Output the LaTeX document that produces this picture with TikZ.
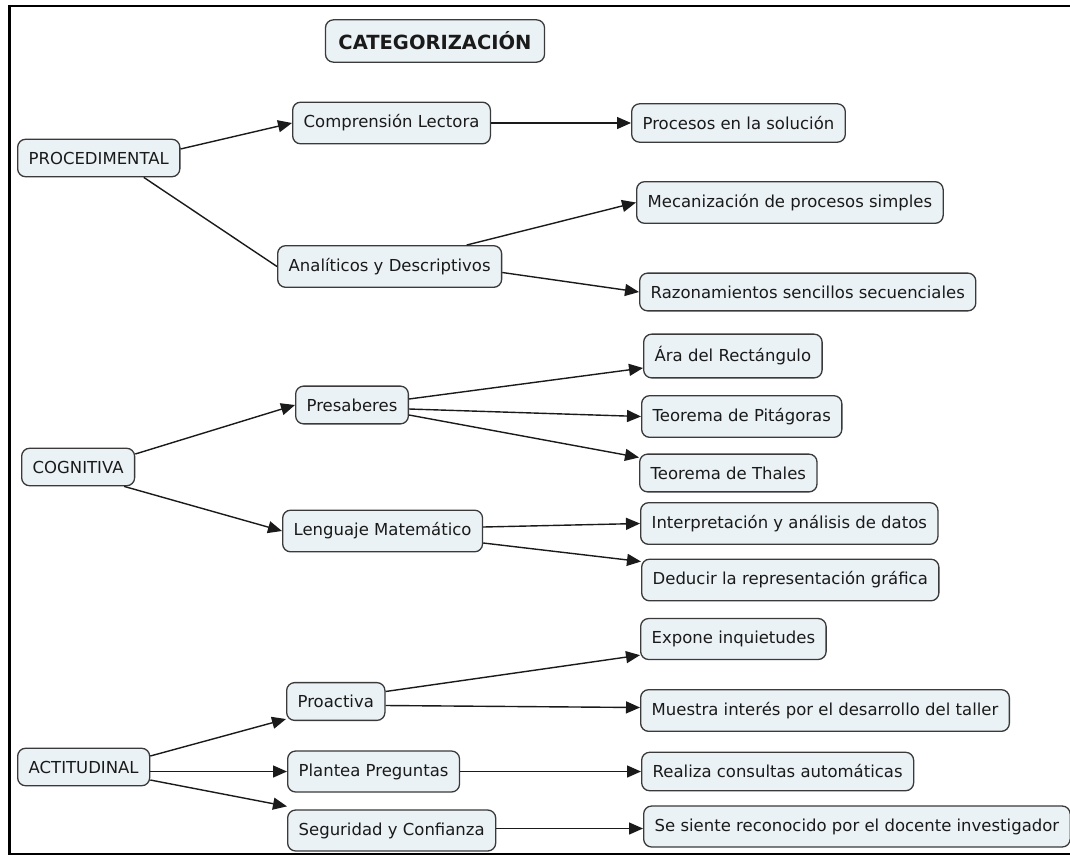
\documentclass[tikz,border=0pt]{standalone}
\usepackage{fontspec}
\setmainfont{DejaVu Sans}
\usetikzlibrary{arrows.meta}

\definecolor{boxfill}{HTML}{EBF2F5}
\definecolor{boxline}{HTML}{3A3A3A}
\definecolor{ink}{HTML}{1A1A1A}

\tikzset{
  concept/.style={draw=boxline, fill=boxfill, line width=1.3pt, rounded corners=8pt,
    inner xsep=11pt, inner ysep=12.5pt, anchor=west, text=ink,
    font=\fontsize{16.5}{18}\selectfont},
  headbox/.style={concept, anchor=center, inner xsep=13pt, inner ysep=12pt,
    font=\fontsize{19.5}{21}\selectfont\bfseries},
  link/.style={draw=ink, line width=1.4pt},
  arrowlink/.style={link, -{Triangle[length=14pt,width=12pt]}},
  frameline/.style={draw=black, line width=2.6pt},
}

\begin{document}
\begin{tikzpicture}[x=1pt, y=-1pt]
\useasboundingbox (0,0) rectangle (1070,857);
\fill[white] (0,0) rectangle (1070,857);

% outer frame (open on the right)
\draw[frameline] (1075,6) -- (9.5,6) -- (9.5,854) -- (1075,854);

% title
\node[headbox] (title) at (435,41) {CATEGORIZACIÓN};

% procedimental branch
\node[concept] (proc)   at (17,158)    {PROCEDIMENTAL};
\node[concept] (comp)   at (292,123)   {Comprensión Lectora};
\node[concept] (procs)  at (631,123)   {Procesos en la solución};
\node[concept] (ana)    at (277,266.5) {Analíticos y Descriptivos};
\node[concept] (mec)    at (636,202.5) {Mecanización de procesos simples};
\node[concept] (raz)    at (639,292)   {Razonamientos sencillos secuenciales};

% cognitiva branch
\node[concept] (cog)    at (21,467)    {COGNITIVA};
\node[concept] (pres)   at (295,405)   {Presaberes};
\node[concept] (ara)    at (643,356)   {Ára del Rectángulo};
\node[concept] (pit)    at (641,416.5) {Teorema de Pitágoras};
\node[concept] (thal)   at (639,473)   {Teorema de Thales};
\node[concept] (leng)   at (282,531)   {Lenguaje Matemático};
\node[concept] (interp) at (640,523.5) {Interpretación y análisis de datos};
\node[concept] (ded)    at (641,580)   {Deducir la representación gráfica};

% actitudinal branch
\node[concept] (act)     at (17,767)    {ACTITUDINAL};
\node[concept] (proact)  at (286,701.5) {Proactiva};
\node[concept] (plant)   at (287,771.5) {Plantea Preguntas};
\node[concept] (seg)     at (287,830.5) {Seguridad y Confianza};
\node[concept] (expone)  at (640,639)   {Expone inquietudes};
\node[concept] (muestra) at (640,710.5) {Muestra interés por el desarrollo del taller};
\node[concept] (realiza) at (641,771.5) {Realiza consultas automáticas};
\node[concept] (siente)  at (643,826.5) {Se siente reconocido por el docente investigador};

% connectors
\draw[arrowlink] ([yshift=9pt]proc.east) -- (comp.west);
\draw[link]      ([xshift=45pt]proc.south) -- (ana.west);
\draw[arrowlink] (comp.east) -- (procs.west);
\draw[arrowlink] ([xshift=77pt]ana.north) -- (mec.west);
\draw[arrowlink] ([yshift=-6pt]ana.east) -- (raz.west);

\draw[arrowlink] ([yshift=13pt]cog.east) -- (pres.west);
\draw[arrowlink] ([xshift=46pt]cog.south) -- (leng.west);
\draw[arrowlink] ([yshift=6pt]pres.east) -- ([yshift=-12pt]ara.west);
\draw[arrowlink] ([yshift=-4pt]pres.east) -- (pit.west);
\draw[arrowlink] ([yshift=-10pt]pres.east) -- ([yshift=-4pt]thal.north west);
\draw[arrowlink] ([yshift=4pt]leng.east) -- (interp.west);
\draw[arrowlink] ([yshift=-12pt]leng.east) -- ([yshift=-3pt]ded.north west);

\draw[arrowlink] ([yshift=11pt]act.east) -- ([yshift=2pt]proact.south west);
\draw[arrowlink] ([yshift=-4.5pt]act.east) -- (plant.west);
\draw[arrowlink] ([yshift=-13pt]act.east) -- ([yshift=3pt]seg.north west);
\draw[arrowlink] ([yshift=10pt]proact.east) -- ([yshift=5pt]expone.south west);
\draw[arrowlink] ([yshift=-4pt]proact.east) -- ([yshift=3pt]muestra.west);
\draw[arrowlink] (plant.east) -- (realiza.west);
\draw[arrowlink] ([yshift=2pt]seg.east) -- ([yshift=-2pt]siente.west);
\end{tikzpicture}
\end{document}
